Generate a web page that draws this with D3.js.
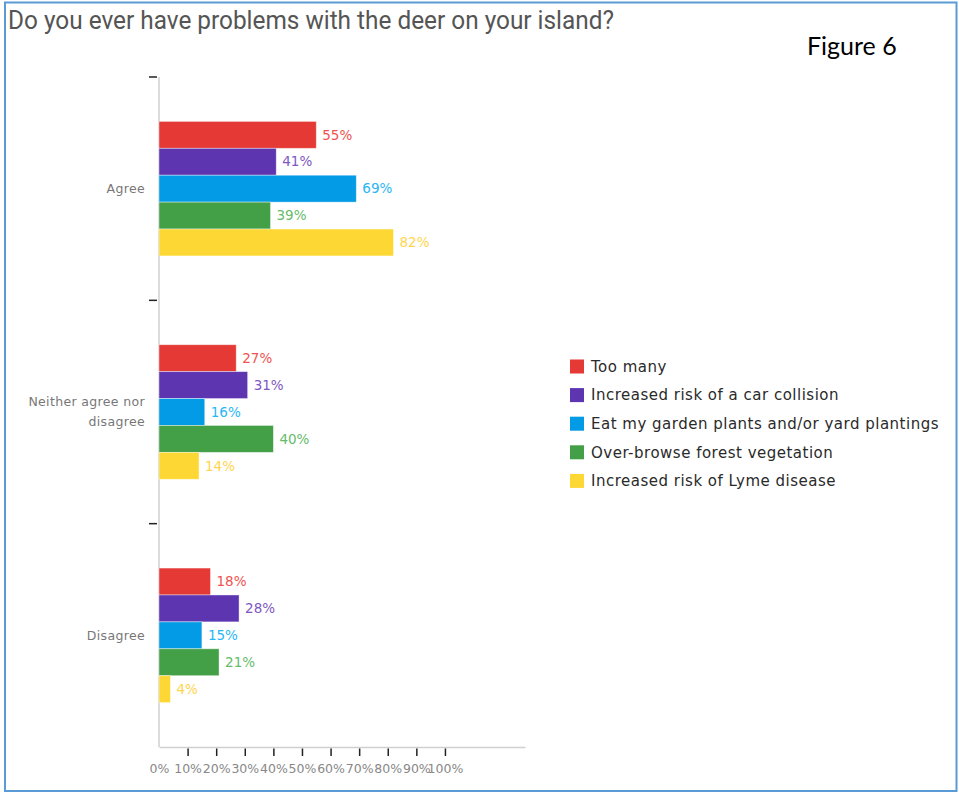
<!DOCTYPE html>
<html>
<head>
<meta charset="utf-8">
<script src="https://cdn.jsdelivr.net/npm/d3@7/dist/d3.min.js"></script>
<style>
  html, body { margin: 0; padding: 0; background: #fff; }
  svg { display: block; }
</style>
</head>
<body>
<svg id="chart" width="959" height="793"></svg>
<script>
// ---- data ----
const categories = ["Agree", "Neither agree nor disagree", "Disagree"];
const seriesNames = [
  "Too many",
  "Increased risk of a car collision",
  "Eat my garden plants and/or yard plantings",
  "Over-browse forest vegetation",
  "Increased risk of Lyme disease"
];
const tooMany      = [55, 27, 18];
const carCollision = [41, 31, 28];
const gardenPlants = [69, 16, 15];
const forestVeg    = [39, 40, 21];
const lymeDisease  = [82, 14, 4];
const xTickValues  = [0, 10, 20, 30, 40, 50, 60, 70, 80, 90, 100];
const titleText = "Do you ever have problems with the deer on your island?";
const figureLabel = "Figure 6";

const seriesValues = [tooMany, carCollision, gardenPlants, forestVeg, lymeDisease];
const barColors   = ["#e53935", "#5e35b1", "#039be5", "#43a047", "#fdd835"];
const labelColors = ["#ef5350", "#7e57c2", "#29b6f6", "#66bb6a", "#ffd54f"];

const svg = d3.select("#chart");
const font = "'DejaVu Sans', Inter, sans-serif";

// frame
svg.append("rect")
  .attr("x", 5).attr("y", 2.5).attr("width", 951.5).attr("height", 788.5)
  .attr("fill", "none").attr("stroke", "#5b9bd5").attr("stroke-width", 2);

// title
svg.append("text")
  .attr("x", 8).attr("y", 29)
  .attr("font-family", "Roboto, sans-serif").attr("font-size", 25)
  .attr("fill", "#555")
  .attr("textLength", 606).attr("lengthAdjust", "spacingAndGlyphs")
  .text(titleText);

svg.append("text")
  .attr("x", 807).attr("y", 55)
  .attr("font-family", "Lato, 'Open Sans', sans-serif").attr("font-size", 25)
  .attr("fill", "#000")
  .text(figureLabel);

// scales
const x = d3.scaleLinear().domain([0, 128]).range([159, 525]);
const y0 = d3.scaleBand().domain(categories).range([77, 747]).padding(0);
const y1 = d3.scaleBand().domain(d3.range(seriesNames.length))
  .range([0, y0.bandwidth()]).paddingInner(0).paddingOuter(1.65);

// y axis line
svg.append("line")
  .attr("x1", 159).attr("x2", 159)
  .attr("y1", y0.range()[0]).attr("y2", y0.range()[1])
  .attr("stroke", "#d0d0d0").attr("stroke-width", 1.5);

// y ticks at band boundaries
const bounds = categories.map(c => y0(c));
svg.selectAll(".ytick").data(bounds).enter().append("line")
  .attr("x1", 149).attr("x2", 157)
  .attr("y1", d => d).attr("y2", d => d)
  .attr("stroke", "#222").attr("stroke-width", 1.5);

// x axis
const xAxis = d3.axisBottom(x)
  .tickValues(xTickValues)
  .tickFormat(d => d + "%")
  .tickSize(9).tickPadding(8).tickSizeOuter(0);
const gx = svg.append("g").attr("transform", "translate(0,747)").call(xAxis);
gx.select(".domain").attr("stroke", "#d0d0d0").attr("stroke-width", 1.5);
gx.selectAll(".tick line").attr("stroke", "#222").attr("stroke-width", 1.5)
  .attr("y1", 1.5)
  .style("display", d => d === 0 ? "none" : null);
gx.selectAll(".tick text")
  .attr("font-family", font).attr("font-size", 12.5).attr("fill", "#888");

// category labels
const catG = svg.selectAll(".cat").data(categories).enter().append("text")
  .attr("text-anchor", "end")
  .attr("font-family", font).attr("font-size", 12.5).attr("letter-spacing", 0.35)
  .attr("fill", "#777");
catG.each(function(d) {
  const t = d3.select(this);
  const cy = y0(d) + y0.bandwidth() / 2;
  const words = d.split(" ");
  const lines = [];
  let cur = "";
  words.forEach(w => {
    const test = cur ? cur + " " + w : w;
    if (test.length > 17 && cur) { lines.push(cur); cur = w; } else { cur = test; }
  });
  lines.push(cur);
  const lh = 20;
  lines.forEach((ln, i) => {
    t.append("tspan")
      .attr("x", 145)
      .attr("y", cy + (i - (lines.length - 1) / 2) * lh)
      .attr("dy", "0.35em")
      .text(ln);
  });
});

// bars
const groups = svg.selectAll(".grp").data(categories).enter().append("g")
  .attr("transform", d => `translate(0,${y0(d)})`);

groups.each(function(cat, ci) {
  const g = d3.select(this);
  const rows = seriesValues.map((vals, si) => ({ si, v: vals[ci] }));
  g.selectAll("rect").data(rows).enter().append("rect")
    .attr("x", x(0))
    .attr("y", d => y1(d.si))
    .attr("width", d => x(d.v) - x(0))
    .attr("height", y1.bandwidth())
    .attr("fill", d => barColors[d.si])
    .attr("stroke", "#fff").attr("stroke-opacity", 0.5).attr("stroke-width", 0.8);
  g.selectAll("text").data(rows).enter().append("text")
    .attr("x", d => x(d.v) + 6)
    .attr("y", d => y1(d.si) + y1.bandwidth() / 2)
    .attr("dy", "0.35em")
    .attr("font-family", font).attr("font-size", 13.5)
    .attr("fill", d => labelColors[d.si])
    .text(d => d.v + "%");
});

// legend
const leg = svg.selectAll(".leg").data(seriesNames).enter().append("g")
  .attr("transform", (d, i) => `translate(570,${359.5 + i * 28.6})`);
leg.append("rect").attr("width", 14).attr("height", 14)
  .attr("fill", (d, i) => barColors[i]);
leg.append("text")
  .attr("x", 21).attr("y", 7).attr("dy", "0.35em")
  .attr("font-family", font).attr("font-size", 15).attr("letter-spacing", 0.5)
  .attr("fill", "#2a2a2a")
  .text(d => d);
</script>
</body>
</html>
